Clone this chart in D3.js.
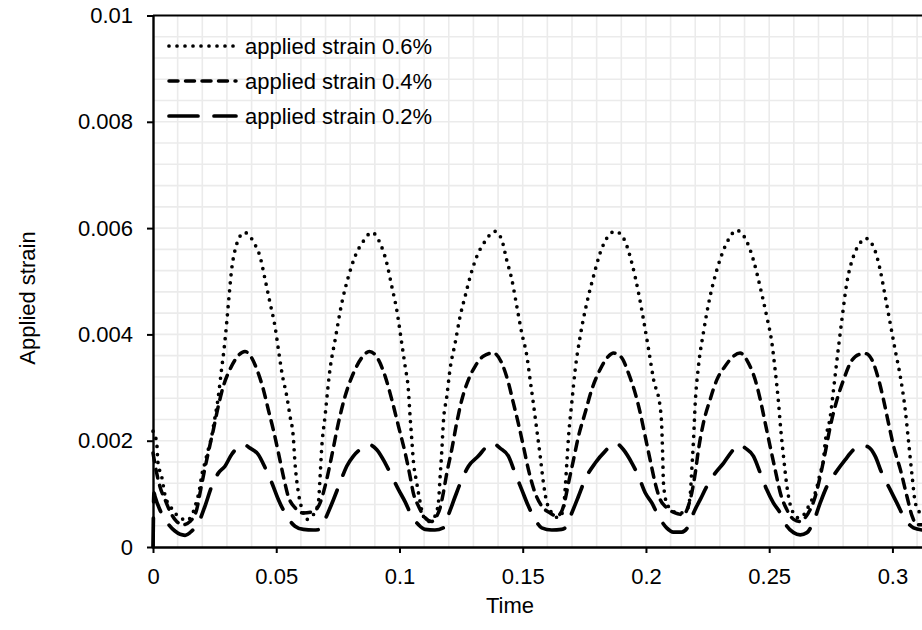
<!DOCTYPE html>
<html>
<head>
<meta charset="utf-8">
<script src="https://cdn.jsdelivr.net/npm/d3@7"></script>
<style>
  body { margin: 0; background: #fff; }
  svg { display: block; font-family: "Liberation Sans", Arial, sans-serif; }
</style>
</head>
<body>
<div id="chart"></div>
<script>
/* series: [time, strain] */
var strain06 = [
    [0, .00218], [.0015, .00196], [.002, .00159], [.0035, .00133], [.005, .00095], [.007, .00077],
    [.0095, .00061], [.0123, .00052], [.0135, .0005], [.0156, .00058], [.0171, .00077], [.019, .00112],
    [.0197, .00133], [.0211, .00159], [.0224, .00183], [.0238, .00208], [.0245, .00227], [.0265, .00283],
    [.0278, .00334], [.0288, .00371], [.0299, .00422], [.0308, .00469], [.0319, .00522], [.0333, .00559],
    [.0346, .00578], [.0371, .00592], [.0394, .00584], [.0414, .00569], [.0434, .00547], [.0455, .00503],
    [.0475, .00459], [.0495, .00415], [.0509, .00371], [.0523, .00328], [.0543, .00283], [.0556, .00246],
    [.0569, .00208], [.0576, .00159], [.059, .00102], [.061, .00065], [.0624, .00052], [.0651, .00061],
    [.0671, .00084], [.0678, .00133], [.0684, .00183], [.0698, .00246], [.0718, .00334], [.0739, .0039],
    [.0766, .00459], [.0793, .00509], [.082, .00547], [.0853, .00575], [.0888, .00592], [.0921, .00572],
    [.0948, .00535], [.0969, .0049], [.0989, .00446], [.1009, .00384], [.1023, .0034], [.1036, .00296],
    [.1043, .00246], [.105, .00202], [.1056, .00164], [.107, .00121], [.1084, .00084], [.1097, .00058],
    [.1117, .00048], [.1144, .00058], [.1158, .00084], [.1165, .00133], [.1172, .00183], [.1178, .00234],
    [.1192, .00283], [.1205, .00334], [.1226, .00384], [.1246, .00434], [.1266, .00471], [.1287, .00509],
    [.1314, .00547], [.1347, .00575], [.1388, .00594], [.1415, .00578], [.1435, .0054], [.1456, .00503],
    [.1476, .00453], [.1496, .00403], [.1517, .00359], [.153, .00315], [.1543, .00271], [.1557, .00221],
    [.1571, .00171], [.1584, .00121], [.1598, .00084], [.1625, .00061], [.1645, .00055], [.1665, .0007],
    [.1672, .00108], [.1679, .00158], [.1686, .00208], [.1699, .00271], [.1713, .00334], [.1733, .00396],
    [.176, .00459], [.1787, .00509], [.1814, .00553], [.1841, .00581], [.1875, .00594], [.1909, .00581],
    [.1943, .00534], [.197, .00478], [.199, .00428], [.2011, .00371], [.2031, .00315], [.2058, .00262],
    [.2064, .00227], [.2068, .00171], [.2071, .00121], [.2084, .00083], [.2111, .00067], [.2139, .00064],
    [.2166, .0007], [.2179, .00095], [.2186, .00146], [.2193, .00202], [.22, .00271], [.2213, .0034],
    [.2233, .00403], [.226, .00471], [.2288, .00522], [.2315, .00559], [.2342, .00584], [.2366, .00596],
    [.2409, .00575], [.2436, .0054], [.2463, .0049], [.249, .00434], [.2511, .00384], [.2524, .00334],
    [.2538, .00271], [.2547, .00221], [.2558, .00171], [.2572, .00114], [.2592, .0007], [.2619, .00055],
    [.2646, .00064], [.2666, .00083], [.2687, .00102], [.2707, .00139], [.272, .00164], [.2727, .00196],
    [.2748, .00246], [.2761, .00296], [.2775, .00352], [.2795, .00428], [.2815, .00497], [.2842, .00547],
    [.2869, .00572], [.289, .00581], [.2923, .00565], [.295, .00522], [.2971, .00471], [.2991, .00421],
    [.3011, .00371], [.3032, .00321], [.3052, .00258], [.3066, .00196], [.308, .00133], [.3093, .00083],
    [.3113, .00064]
];

var strain04 = [
    [0, .00177], [.0015, .00139], [.0028, .00114], [.0049, .00089], [.0069, .00067], [.0096, .00048],
    [.0123, .00042], [.015, .00048], [.0177, .0007], [.0191, .00102], [.0204, .00133], [.0224, .00177],
    [.0245, .00221], [.0265, .00265], [.0285, .00302], [.0312, .00334], [.0339, .00356], [.0373, .00368],
    [.04, .00356], [.0427, .00327], [.0448, .00296], [.0468, .00258], [.0488, .00221], [.0509, .00177],
    [.0529, .00133], [.0549, .00095], [.0576, .00074], [.061, .00064], [.0651, .00067], [.0678, .00083],
    [.0698, .00114], [.0725, .00171], [.0752, .00233], [.0779, .00283], [.0813, .00327], [.0847, .00356],
    [.0878, .00368], [.0915, .00352], [.0942, .00321], [.0969, .00277], [.0996, .00227], [.1023, .00177],
    [.1043, .00133], [.1056, .00102], [.1077, .00077], [.1104, .00055], [.1131, .00048], [.1151, .00058],
    [.1165, .00074], [.1178, .00102], [.1192, .00139], [.1212, .00183], [.1232, .00233], [.1253, .00277],
    [.128, .00315], [.1307, .0034], [.134, .00359], [.1381, .00365], [.1415, .00346], [.1442, .00309],
    [.1462, .00271], [.1482, .00233], [.1503, .00189], [.1523, .00146], [.155, .00102], [.1577, .00077],
    [.1611, .00064], [.1638, .00058], [.1658, .00067], [.1672, .00089], [.1686, .00121], [.1706, .00164],
    [.1726, .00208], [.1753, .00252], [.178, .00296], [.1814, .00334], [.1848, .00359], [.1868, .00365],
    [.1902, .00356], [.1929, .00327], [.1956, .0029], [.1977, .00252], [.1997, .00208], [.2017, .00164],
    [.2037, .00121], [.2058, .00089], [.2084, .00074], [.2118, .00064], [.2152, .00061], [.2172, .00077],
    [.2186, .00102], [.22, .00139], [.2213, .00183], [.2233, .00233], [.226, .00277], [.2288, .00315],
    [.2321, .0034], [.2355, .00359], [.2382, .00365], [.2416, .00346], [.2443, .00315], [.2464, .00277],
    [.2484, .00233], [.2504, .00189], [.2524, .00146], [.2545, .00102], [.2572, .0007], [.2599, .00052],
    [.2626, .00048], [.2646, .00055], [.2666, .0007], [.2687, .00095], [.2707, .00133], [.2727, .00177],
    [.2748, .00227], [.2775, .00277], [.2802, .00315], [.2829, .00346], [.2863, .00362], [.289, .00364],
    [.2917, .00352], [.2944, .00315], [.2964, .00277], [.2984, .00233], [.3005, .00189], [.3032, .00146],
    [.3059, .00095], [.308, .00058], [.31, .00042], [.312, .00042]
];

var strain02 = [
    [0, 0], [.0004, .00102], [.0008, .00095], [.0028, .0007], [.0049, .00052], [.0089, .0003],
    [.013, .00022], [.0157, .0003], [.0184, .00045], [.0211, .00077], [.0238, .00114], [.0265, .00139],
    [.0292, .00152], [.0319, .00174], [.0346, .00188], [.0366, .00193], [.0394, .00186], [.0427, .00174],
    [.0455, .00149], [.0482, .00121], [.0509, .00089], [.0543, .00058], [.0576, .00039], [.061, .00033],
    [.0651, .00032], [.0678, .00033], [.0704, .00058], [.0732, .00089], [.0759, .00121], [.0786, .00152],
    [.0813, .00171], [.0847, .00186], [.0874, .00193], [.0908, .00183], [.0942, .00158], [.0969, .00133],
    [.0996, .00108], [.1023, .00085], [.105, .00058], [.1077, .00042], [.1104, .00033], [.1144, .00032],
    [.1178, .00036], [.1199, .00061], [.1226, .00095], [.1253, .00127], [.128, .00152], [.132, .00171],
    [.1354, .00189], [.1377, .00196], [.1408, .00186], [.1442, .00171], [.1469, .00139], [.1496, .00108],
    [.1523, .00077], [.155, .00052], [.1577, .00036], [.1618, .00032], [.1658, .00033], [.1672, .00036],
    [.1699, .00064], [.1726, .00095], [.1753, .00127], [.1794, .00158], [.1834, .0018], [.1875, .00196],
    [.1909, .00183], [.1943, .00158], [.197, .00133], [.1997, .00102], [.2024, .00083], [.2051, .00058],
    [.2084, .00036], [.2111, .00028], [.2145, .00028], [.2172, .00039], [.2193, .00064], [.222, .00089],
    [.2247, .00114], [.2281, .00139], [.2315, .00158], [.2349, .0018], [.2376, .00193], [.2403, .00186],
    [.2436, .00171], [.2464, .00139], [.249, .00108], [.2517, .00083], [.2545, .00064], [.2572, .00039],
    [.2599, .00027], [.2626, .00023], [.2653, .00027], [.268, .00048], [.2707, .00083], [.2734, .00114],
    [.2768, .00139], [.2808, .00164], [.2842, .00183], [.2876, .00191], [.2903, .00188], [.293, .00171],
    [.2957, .00139], [.2991, .00108], [.3018, .00083], [.3052, .00052], [.3086, .00036], [.312, .00032]
];

var seriesNames = ["applied strain 0.6%", "applied strain 0.4%", "applied strain 0.2%"];
var xTicks = [0, 0.05, 0.1, 0.15, 0.2, 0.25, 0.3];
var yTicks = [0, 0.002, 0.004, 0.006, 0.008, 0.01];

function plotStrain() {
    var width = 922,
        height = 630,
        left = 153,
        right = 922,
        top = 15.5,
        bottom = 547;

    var svg = d3.select("#chart").append("svg")
        .attr("width", width)
        .attr("height", height);

    var x = d3.scaleLinear()
        .domain([0, 0.312])
        .range([left, right]);

    var y = d3.scaleLinear()
        .domain([0, 0.01])
        .range([bottom, top]);

    // minor gridlines
    var grid = svg.append("g").attr("class", "grid");
    grid.selectAll(".gx")
        .data(d3.range(1, 32).map(function(i) { return i * 0.01; }))
        .enter().append("line")
        .attr("x1", function(d) { return x(d); })
        .attr("x2", function(d) { return x(d); })
        .attr("y1", top)
        .attr("y2", bottom)
        .attr("stroke", "#ebebeb")
        .attr("stroke-width", 1.6);
    grid.selectAll(".gy")
        .data(d3.range(1, 25).map(function(i) { return i * 0.0004; }))
        .enter().append("line")
        .attr("x1", left)
        .attr("x2", right)
        .attr("y1", function(d) { return y(d); })
        .attr("y2", function(d) { return y(d); })
        .attr("stroke", "#ebebeb")
        .attr("stroke-width", 1.6);

    // top border
    svg.append("line")
        .attr("x1", left)
        .attr("x2", right)
        .attr("y1", top)
        .attr("y2", top)
        .attr("stroke", "#000")
        .attr("stroke-width", 2);

    var styles = [
        { dash: "0 8", width: 3.7, cap: "round" },
        { dash: "9 7.5", width: 3.5, cap: "round" },
        { dash: "29 16", width: 3.7, cap: "round" }
    ];
    var series = [strain06, strain04, strain02];

    var line = d3.line()
        .x(function(d) { return x(d[0]); })
        .y(function(d) { return y(d[1]); })
        .curve(d3.curveMonotoneX);

    svg.selectAll(".series")
        .data(series)
        .enter().append("path")
        .attr("class", "series")
        .attr("d", line)
        .attr("fill", "none")
        .attr("stroke", "#000")
        .attr("stroke-width", function(d, i) { return styles[i].width; })
        .attr("stroke-dasharray", function(d, i) { return styles[i].dash; })
        .attr("stroke-linecap", function(d, i) { return styles[i].cap; })
        .attr("stroke-linejoin", "round");

    var fmt = function(d) { return String(+d.toFixed(4)); };

    var xAxis = svg.append("g")
        .attr("transform", "translate(0," + bottom + ")")
        .call(d3.axisBottom(x).tickValues(xTicks).tickFormat(fmt).tickSizeInner(6).tickSizeOuter(0).tickPadding(15));

    var yAxis = svg.append("g")
        .attr("transform", "translate(" + left + ",0)")
        .call(d3.axisLeft(y).tickValues(yTicks).tickFormat(fmt).tickSizeInner(6).tickSizeOuter(0).tickPadding(14));

    [xAxis, yAxis].forEach(function(a) {
        a.select(".domain").attr("stroke", "#000").attr("stroke-width", 2.4);
        a.selectAll(".tick line").attr("stroke", "#000").attr("stroke-width", 2);
        a.selectAll(".tick text")
            .attr("fill", "#000")
            .style("font-size", "22px")
            .style("font-family", "'Liberation Sans', Arial, sans-serif");
    });

    svg.append("text")
        .attr("x", 510)
        .attr("y", 605)
        .attr("dy", ".35em")
        .attr("text-anchor", "middle")
        .style("font-size", "22px")
        .text("Time");

    svg.append("text")
        .attr("transform", "translate(27,298) rotate(-90)")
        .attr("dy", ".35em")
        .attr("text-anchor", "middle")
        .style("font-size", "22px")
        .text("Applied strain");

    var legend = svg.selectAll(".legend")
        .data(seriesNames)
        .enter().append("g")
        .attr("class", "legend")
        .attr("transform", function(d, i) {
            return "translate(0," + (46 + i * 35) + ")";
        });

    legend.append("line")
        .attr("x1", 169)
        .attr("x2", 236)
        .attr("stroke", "#000")
        .attr("stroke-width", function(d, i) { return styles[i].width; })
        .attr("stroke-dasharray", function(d, i) { return styles[i].dash; })
        .attr("stroke-linecap", function(d, i) { return styles[i].cap; });

    legend.append("text")
        .attr("x", 245)
        .attr("dy", ".35em")
        .style("font-size", "22px")
        .text(function(d) { return d; });
}

plotStrain();
</script>
</body>
</html>
